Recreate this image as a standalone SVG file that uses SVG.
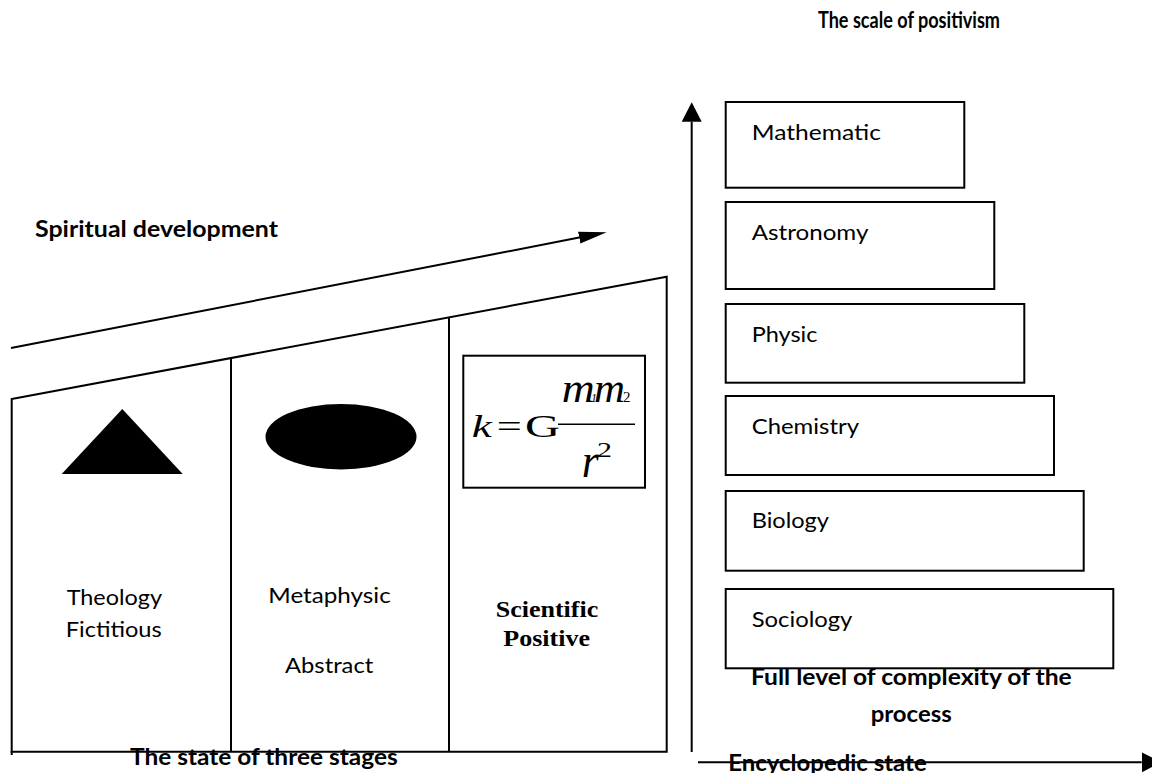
<svg xmlns="http://www.w3.org/2000/svg" width="1152" height="773" viewBox="0 0 1152 773">
  <style>
    .ln { stroke: #000; stroke-width: 2; fill: none; }
    .box { stroke: #000; stroke-width: 2; fill: #fff; }
    .sans { font-family: Lato, "Liberation Sans", sans-serif; font-size: 22px; fill: #000; }
    .bold { font-family: Lato, "Liberation Sans", sans-serif; font-weight: bold; font-size: 23px; fill: #000; }
    .serif { font-family: "Liberation Serif", "Times New Roman", serif; fill: #000; }
  </style>
  <defs>
    <marker id="headLong" markerUnits="userSpaceOnUse" markerWidth="30" markerHeight="14" viewBox="0 -7 30 14" refX="0" refY="0" orient="auto">
      <path d="M0,-6 L28,0 L0,6 z" fill="#000"/>
    </marker>
    <marker id="headAxis" markerUnits="userSpaceOnUse" markerWidth="21" markerHeight="22" viewBox="0 -11 21 22" refX="0" refY="0" orient="auto">
      <path d="M0,-10 L19.5,0 L0,10 z" fill="#000"/>
    </marker>
  </defs>

  <!-- headings -->
  <text id="title-scale" class="bold" x="818" y="28" font-size="19" textLength="182" lengthAdjust="spacingAndGlyphs">The scale of positivism</text>
  <text id="title-spiritual" class="bold" x="35" y="237" textLength="243" lengthAdjust="spacingAndGlyphs">Spiritual development</text>

  <!-- three-stage house -->
  <g id="stages">
    <polygon class="ln" points="11.7,399 666.7,276.7 666.7,751.7 11.7,751.7"/>
    <line class="ln" x1="11.7" y1="751" x2="11.7" y2="755"/>
    <line class="ln" x1="231" y1="358" x2="231" y2="751.7"/>
    <line class="ln" x1="449" y1="317.4" x2="449" y2="751.7"/>
  </g>

  <g id="stage-theology">
    <polygon points="122.3,409 61.7,474 182.7,474" fill="#000"/>
    <text class="sans" x="66.7" y="605" textLength="95.3" lengthAdjust="spacingAndGlyphs">Theology</text>
    <text class="sans" x="65.7" y="636.7" textLength="96" lengthAdjust="spacingAndGlyphs">Fictitious</text>
  </g>

  <g id="stage-metaphysic">
    <ellipse cx="341" cy="436.7" rx="75.5" ry="32.7" fill="#000"/>
    <text class="sans" x="268.3" y="602.7" textLength="122.4" lengthAdjust="spacingAndGlyphs">Metaphysic</text>
    <text class="sans" x="285" y="672.7" textLength="88.3" lengthAdjust="spacingAndGlyphs">Abstract</text>
  </g>

  <g id="stage-scientific">
    <rect class="ln" x="463.3" y="355.7" width="181.7" height="132"/>
    <!-- k = G m1 m2 / r^2 -->
    <text class="serif" x="471.7" y="436.7" font-size="32" font-style="italic" textLength="20" lengthAdjust="spacingAndGlyphs">k</text>
    <text class="serif" x="496.7" y="436.7" font-size="32" textLength="25" lengthAdjust="spacingAndGlyphs">=</text>
    <text class="serif" x="525" y="436.7" font-size="31" textLength="35" lengthAdjust="spacingAndGlyphs">G</text>
    <text class="serif" x="561.7" y="401.7" font-size="42" font-style="italic" textLength="33" lengthAdjust="spacingAndGlyphs">m</text>
    <text class="serif" x="591" y="401.7" font-size="12" font-style="italic">1</text>
    <text class="serif" x="594" y="401.7" font-size="42" font-style="italic" textLength="31" lengthAdjust="spacingAndGlyphs">m</text>
    <text class="serif" x="623" y="402" font-size="15">2</text>
    <line x1="558" y1="424.3" x2="635" y2="424.3" stroke="#000" stroke-width="1.5"/>
    <text class="serif" x="581.7" y="476.7" font-size="48" font-style="italic" textLength="17" lengthAdjust="spacingAndGlyphs">r</text>
    <text class="serif" x="597" y="456.7" font-size="22" textLength="15" lengthAdjust="spacingAndGlyphs">2</text>
    <text class="serif" x="495.7" y="616.7" font-size="24" font-weight="bold" textLength="102.6" lengthAdjust="spacingAndGlyphs">Scientific</text>
    <text class="serif" x="503.3" y="646" font-size="24" font-weight="bold" textLength="86.7" lengthAdjust="spacingAndGlyphs">Positive</text>
  </g>

  <text id="label-three-stages" class="bold" x="130" y="765" textLength="267.7" lengthAdjust="spacingAndGlyphs">The state of three stages</text>

  <!-- caption under the scale, partly covered by the Sociology box -->
  <g id="caption-complexity">
    <text class="bold" x="751" y="684.5" font-size="24" textLength="320.7" lengthAdjust="spacingAndGlyphs">Full level of complexity of the</text>
    <text class="bold" x="870.7" y="721.7" font-size="24" textLength="81" lengthAdjust="spacingAndGlyphs">process</text>
  </g>
  <text id="label-encyclopedic" class="bold" x="728.3" y="771" textLength="198.4" lengthAdjust="spacingAndGlyphs">Encyclopedic state</text>

  <!-- sciences, most abstract at the top -->
  <g id="science-mathematic">
    <rect class="box" x="725.7" y="102" width="238.6" height="85.7"/>
    <text class="sans" x="751.7" y="140" textLength="129.3" lengthAdjust="spacingAndGlyphs">Mathematic</text>
  </g>
  <g id="science-astronomy">
    <rect class="box" x="725.7" y="202" width="268.6" height="87"/>
    <text class="sans" x="751.7" y="240" textLength="116.7" lengthAdjust="spacingAndGlyphs">Astronomy</text>
  </g>
  <g id="science-physic">
    <rect class="box" x="725.7" y="304" width="298.6" height="78.7"/>
    <text class="sans" x="751.7" y="341.7" textLength="65.7" lengthAdjust="spacingAndGlyphs">Physic</text>
  </g>
  <g id="science-chemistry">
    <rect class="box" x="725.7" y="396" width="328.3" height="79"/>
    <text class="sans" x="751.7" y="434" textLength="107.3" lengthAdjust="spacingAndGlyphs">Chemistry</text>
  </g>
  <g id="science-biology">
    <rect class="box" x="725.7" y="491" width="358" height="79.7"/>
    <text class="sans" x="751.7" y="528.3" textLength="77.3" lengthAdjust="spacingAndGlyphs">Biology</text>
  </g>
  <g id="science-sociology">
    <rect class="box" x="725.7" y="589" width="387.6" height="79.3"/>
    <text class="sans" x="751.7" y="626.7" textLength="100.7" lengthAdjust="spacingAndGlyphs">Sociology</text>
  </g>

  <!-- arrows -->
  <g id="connectors">
    <line class="ln" x1="11" y1="348" x2="579.2" y2="237.6" marker-end="url(#headLong)"/>
    <line class="ln" x1="691.7" y1="752" x2="691.7" y2="121.7" marker-end="url(#headAxis)"/>
    <line class="ln" x1="698" y1="762.3" x2="1141.7" y2="762.3" marker-end="url(#headAxis)"/>
  </g>
</svg>
